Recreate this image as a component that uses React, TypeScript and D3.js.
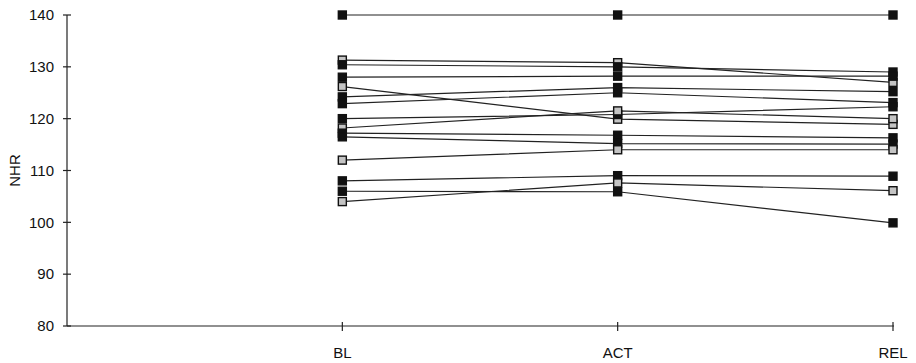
import * as d3 from "d3";
import React, { useRef, useEffect } from "react";

const width = 916;
const height = 363;

const categories = ["BL", "ACT", "REL"];
const yTicks = [80, 90, 100, 110, 120, 130, 140];

// one value per patient at each time point
const blValues = [140, 131.3, 130.4, 128, 126.2, 124.2, 122.9, 120, 118.2, 117.2, 116.5, 112, 108, 106, 104];
const actValues = [140, 130.8, 130, 128.2, 119.9, 126, 125, 120.8, 121.5, 116.8, 115.2, 114, 109, 105.9, 107.6];
const relValues = [140, 127, 129, 128.2, 118.9, 125.2, 123.1, 122.3, 120, 116.3, 115.1, 114, 108.9, 99.9, 106.1];
const greyMarker = [false, true, false, false, true, false, false, false, true, false, false, true, false, false, true];

function App() {
  const ref = useRef<SVGSVGElement>(null);

  useEffect(() => {
    const svg = d3.select(ref.current);
    svg.selectAll("*").remove();

    const xScale = d3
      .scalePoint<string>()
      .domain(["", ...categories])
      .range([67, 893]);

    const yScale = d3.scaleLinear().domain([80, 140]).range([326, 15]);

    const series = blValues.map((v, i) => ({
      grey: greyMarker[i],
      points: [
        { cat: "BL", value: v },
        { cat: "ACT", value: actValues[i] },
        { cat: "REL", value: relValues[i] },
      ],
    }));

    // axes
    const axes = svg.append("g").attr("stroke", "#222").attr("stroke-width", 1.2);
    axes
      .append("line")
      .attr("x1", 67)
      .attr("x2", 67)
      .attr("y1", yScale(140))
      .attr("y2", yScale(80));
    axes
      .append("line")
      .attr("x1", 67)
      .attr("x2", xScale("REL")! + 1)
      .attr("y1", yScale(80))
      .attr("y2", yScale(80));

    axes
      .selectAll(".y-tick")
      .data(yTicks)
      .join("line")
      .attr("x1", 63)
      .attr("x2", 71)
      .attr("y1", (d) => yScale(d))
      .attr("y2", (d) => yScale(d));

    axes
      .selectAll(".x-tick")
      .data(categories)
      .join("line")
      .attr("x1", (d) => xScale(d)!)
      .attr("x2", (d) => xScale(d)!)
      .attr("y1", yScale(80) - 4)
      .attr("y2", yScale(80) + 5);

    const labels = svg
      .append("g")
      .attr("font-family", "'Liberation Sans', Arial, sans-serif")
      .attr("font-size", 15)
      .attr("fill", "#111");

    labels
      .selectAll(".y-label")
      .data(yTicks)
      .join("text")
      .attr("x", 54)
      .attr("y", (d) => yScale(d))
      .attr("dy", "0.35em")
      .attr("text-anchor", "end")
      .text((d) => d);

    labels
      .selectAll(".x-label")
      .data(categories)
      .join("text")
      .attr("x", (d) => xScale(d)!)
      .attr("y", 358)
      .attr("text-anchor", "middle")
      .text((d) => d);

    labels
      .append("text")
      .attr("transform", `translate(20, ${yScale(110)}) rotate(-90)`)
      .attr("text-anchor", "middle")
      .text("NHR");

    // lines
    const line = d3
      .line<{ cat: string; value: number }>()
      .x((d) => xScale(d.cat)!)
      .y((d) => yScale(d.value));

    svg
      .append("g")
      .selectAll("path")
      .data(series)
      .join("path")
      .attr("d", (d) => line(d.points))
      .attr("fill", "none")
      .attr("stroke", "#222")
      .attr("stroke-width", 1.2);

    // markers
    const size = 8;
    svg
      .append("g")
      .selectAll("g")
      .data(series)
      .join("g")
      .selectAll("rect")
      .data((d) => d.points.map((p) => ({ ...p, grey: d.grey })))
      .join("rect")
      .attr("x", (d) => xScale(d.cat)! - size / 2)
      .attr("y", (d) => yScale(d.value) - size / 2)
      .attr("width", size)
      .attr("height", size)
      .attr("fill", (d) => (d.grey ? "#c4c4c4" : "#111"))
      .attr("stroke", "#111")
      .attr("stroke-width", 1.4);
  }, []);

  return (
    <svg
      ref={ref}
      width={width}
      height={height}
      style={{ position: "absolute", left: 0, top: 0, background: "#fff" }}
    ></svg>
  );
}

export default App;
